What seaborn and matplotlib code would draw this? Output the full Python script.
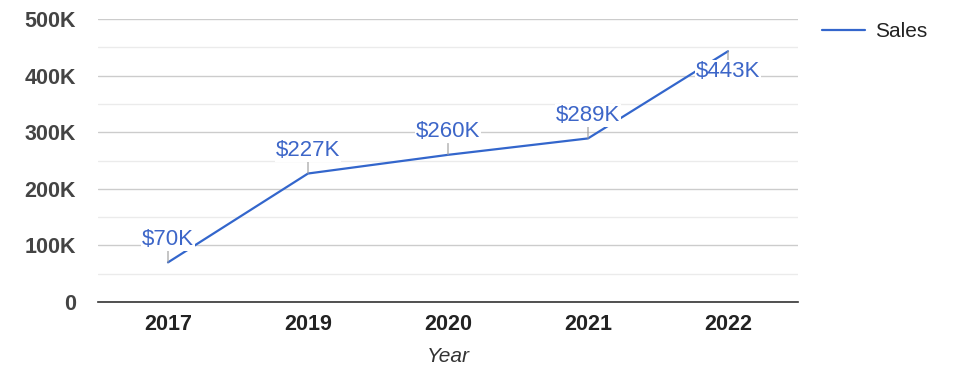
import pandas as pd
import matplotlib.pyplot as plt
import seaborn as sns
from matplotlib.ticker import FuncFormatter, MultipleLocator

years = ['2017', '2019', '2020', '2021', '2022']
sales = [70000, 227000, 260000, 289000, 443000]
labels = ['$70K', '$227K', '$260K', '$289K', '$443K']

sns.set_style('white')
plt.rcParams['font.family'] = ['Liberation Sans', 'DejaVu Sans']

df = pd.DataFrame({'Year': years, 'Sales': sales})

fig = plt.figure(figsize=(9.75, 3.78), dpi=100)
ax = fig.add_axes([98 / 975, 1 - 302 / 378, 700 / 975, 283 / 378])

line_color = '#3366cc'
sns.lineplot(x='Year', y='Sales', data=df, ax=ax, color=line_color,
             linewidth=1.6, label='Sales', legend=False)

ax.set_xlim(-0.5, 4.5)
ax.set_ylim(0, 500000)
ax.yaxis.set_major_locator(MultipleLocator(100000))
ax.yaxis.set_minor_locator(MultipleLocator(50000))
ax.yaxis.set_major_formatter(FuncFormatter(lambda v, p: '0' if v == 0 else f'{int(v / 1000)}K'))
ax.grid(axis='y', which='major', color='#cccccc', linewidth=1)
ax.grid(axis='y', which='minor', color='#ebebeb', linewidth=1)
ax.set_axisbelow(True)

for s in ['top', 'right', 'left']:
    ax.spines[s].set_visible(False)
ax.spines['bottom'].set_color('#333333')
ax.spines['bottom'].set_linewidth(1.2)

ax.tick_params(axis='both', which='both', length=0)
ax.tick_params(axis='y', pad=16, labelsize=15.5, labelcolor='#444444')
ax.tick_params(axis='x', pad=8.5, labelsize=15.5, labelcolor='#222222')
for t in ax.get_xticklabels() + ax.get_yticklabels():
    t.set_fontweight('bold')

ax.set_xlabel('Year', fontsize=15, fontstyle='italic', color='#333333', labelpad=9)
ax.set_ylabel('')

# data labels with short leader lines
for i, (yr, val, lab) in enumerate(zip(years, sales, labels)):
    below = i == len(years) - 1
    off = -7 if below else 9
    ax.annotate(lab, xy=(i, val), xytext=(0, off), textcoords='offset points',
                ha='center', va='top' if below else 'bottom',
                fontsize=16, color='#3d66c8', zorder=5,
                bbox=dict(boxstyle='square,pad=0.05', fc='white', ec='none'),
                arrowprops=dict(arrowstyle='-', color='#999999', lw=0.8,
                                shrinkA=0, shrinkB=0))

fig.legend(handles=ax.get_lines()[:1], labels=['Sales'], loc='upper left',
           bbox_to_anchor=(822 / 975, 1 - 22 / 378), frameon=False,
           borderpad=0, borderaxespad=0,
           fontsize=15, handlelength=2.05, handletextpad=0.5, labelcolor='#222222')

plt.savefig('out.png', dpi=100)
